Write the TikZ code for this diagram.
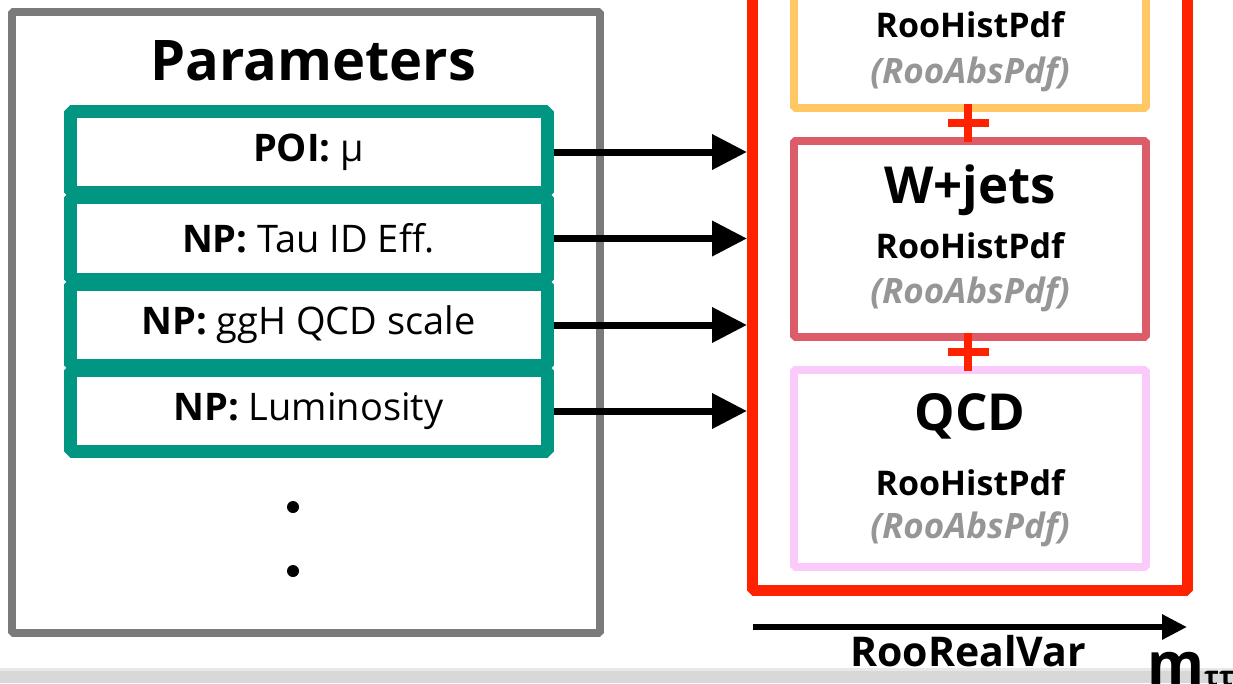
\documentclass[tikz,border=0pt]{standalone}
\usepackage{fontspec}
\setmainfont{Open Sans}
\usetikzlibrary{arrows.meta,positioning}

\definecolor{parteal}{RGB}{0,150,130}
\definecolor{boxgray}{RGB}{122,122,122}
\definecolor{modred}{RGB}{255,34,0}
\definecolor{bkgorange}{RGB}{255,200,100}
\definecolor{wjred}{RGB}{221,92,106}
\definecolor{qcdpink}{RGB}{250,202,250}
\definecolor{abspdf}{RGB}{150,150,150}
\definecolor{bandgray}{RGB}{216,216,216}

\newcommand{\fsz}[1]{\fontsize{#1}{#1}\selectfont}

\tikzset{
  parbox/.style={draw=parteal, line width=13pt, line join=bevel,
    minimum width=477pt, minimum height=81.5pt, inner sep=0pt, font=\fsz{38}},
  compbox/.style={line width=8pt, line join=bevel, minimum width=352pt, inner sep=0pt},
  pararrow/.style={line width=7pt, -{Triangle[length=35pt,width=34pt]}},
  plusbar/.style={draw=modred, line width=8pt},
  comptitle/.style={anchor=base, font=\bfseries\fsz{51}},
  pdfname/.style={anchor=base, font=\bfseries\fsz{34}},
  pdfclass/.style={anchor=base, text=abspdf, font=\bfseries\itshape\fsz{35}}
}

\begin{document}
\begin{tikzpicture}[x=1pt,y=-1pt]
  \useasboundingbox (0,0) rectangle (1233,683);

  % parameters
  \node[draw=boxgray, line width=8pt, line join=bevel,
        minimum width=588pt, minimum height=621pt] (params) at (306,322.5) {};
  \node[anchor=base, font=\bfseries\fsz{56}] (partitle) at (313,80) {Parameters};

  % model
  \node[draw=modred, line width=11pt, line join=bevel,
        minimum width=435pt, minimum height=690pt] (model) at (970,245) {};

  \foreach \nm/\yy/\key/\val in {poi/152/POI/μ, tau/238.5/NP/Tau ID Eff.,
      ggh/325/NP/ggH QCD scale, lumi/411/NP/Luminosity} {
    \node[parbox] (\nm) at (308.5,\yy) {\textbf{\key:} \val};
    \draw[pararrow] (\nm.east) -- (\nm.east -| model.west);
  }

  \fill (293,507) circle (6pt);
  \fill (293,571) circle (6pt);

  % components
  \node[compbox, draw=bkgorange, minimum height=258pt] (bkg) at (970,-21) {};
  \node[compbox, draw=wjred, minimum height=196pt] (wjets) at (970,239) {};
  \node[compbox, draw=qcdpink, minimum height=197pt] (qcd) at (970,468.5) {};

  \node[pdfname] (bkgpdf) at (970,37) {RooHistPdf};
  \node[pdfclass] (bkgcls) at (970,83) {(RooAbsPdf)};
  \node[comptitle] (wjtitle) at (970,203) {W+jets};
  \node[pdfname] (wjpdf) at (970,258) {RooHistPdf};
  \node[pdfclass] (wjcls) at (970,303) {(RooAbsPdf)};
  \node[comptitle] (qcdtitle) at (970,430) {QCD};
  \node[pdfname] (qcdpdf) at (970,495) {RooHistPdf};
  \node[pdfclass] (qcdcls) at (970,538) {(RooAbsPdf)};

  \coordinate (plusa) at (968,123);
  \coordinate (plusb) at (968,352);
  \foreach \p in {plusa,plusb}
    \draw[plusbar] ([xshift=-20.5pt]\p) -- ([xshift=20.5pt]\p)
                   ([yshift=-19pt]\p) -- ([yshift=19pt]\p);

  % observable
  \coordinate (axstart) at (753,627);
  \coordinate (axend) at (1187,627);
  \draw[line width=6pt, -{Triangle[length=25pt,width=24pt]}] (axstart) -- (axend);
  \node[anchor=base, font=\bfseries\fsz{41}] (varclass) at (968,666) {RooRealVar};

  \fill[bandgray!60] (0,668) rectangle (1233,671);
  \fill[bandgray] (0,671) rectangle (1233,683);
  \node[anchor=base west, inner sep=0pt, font=\bfseries\fsz{58}] (mtt) at (1147,684)
    {m\raisebox{-2pt}{\fsz{28}ττ}};
\end{tikzpicture}
\end{document}
